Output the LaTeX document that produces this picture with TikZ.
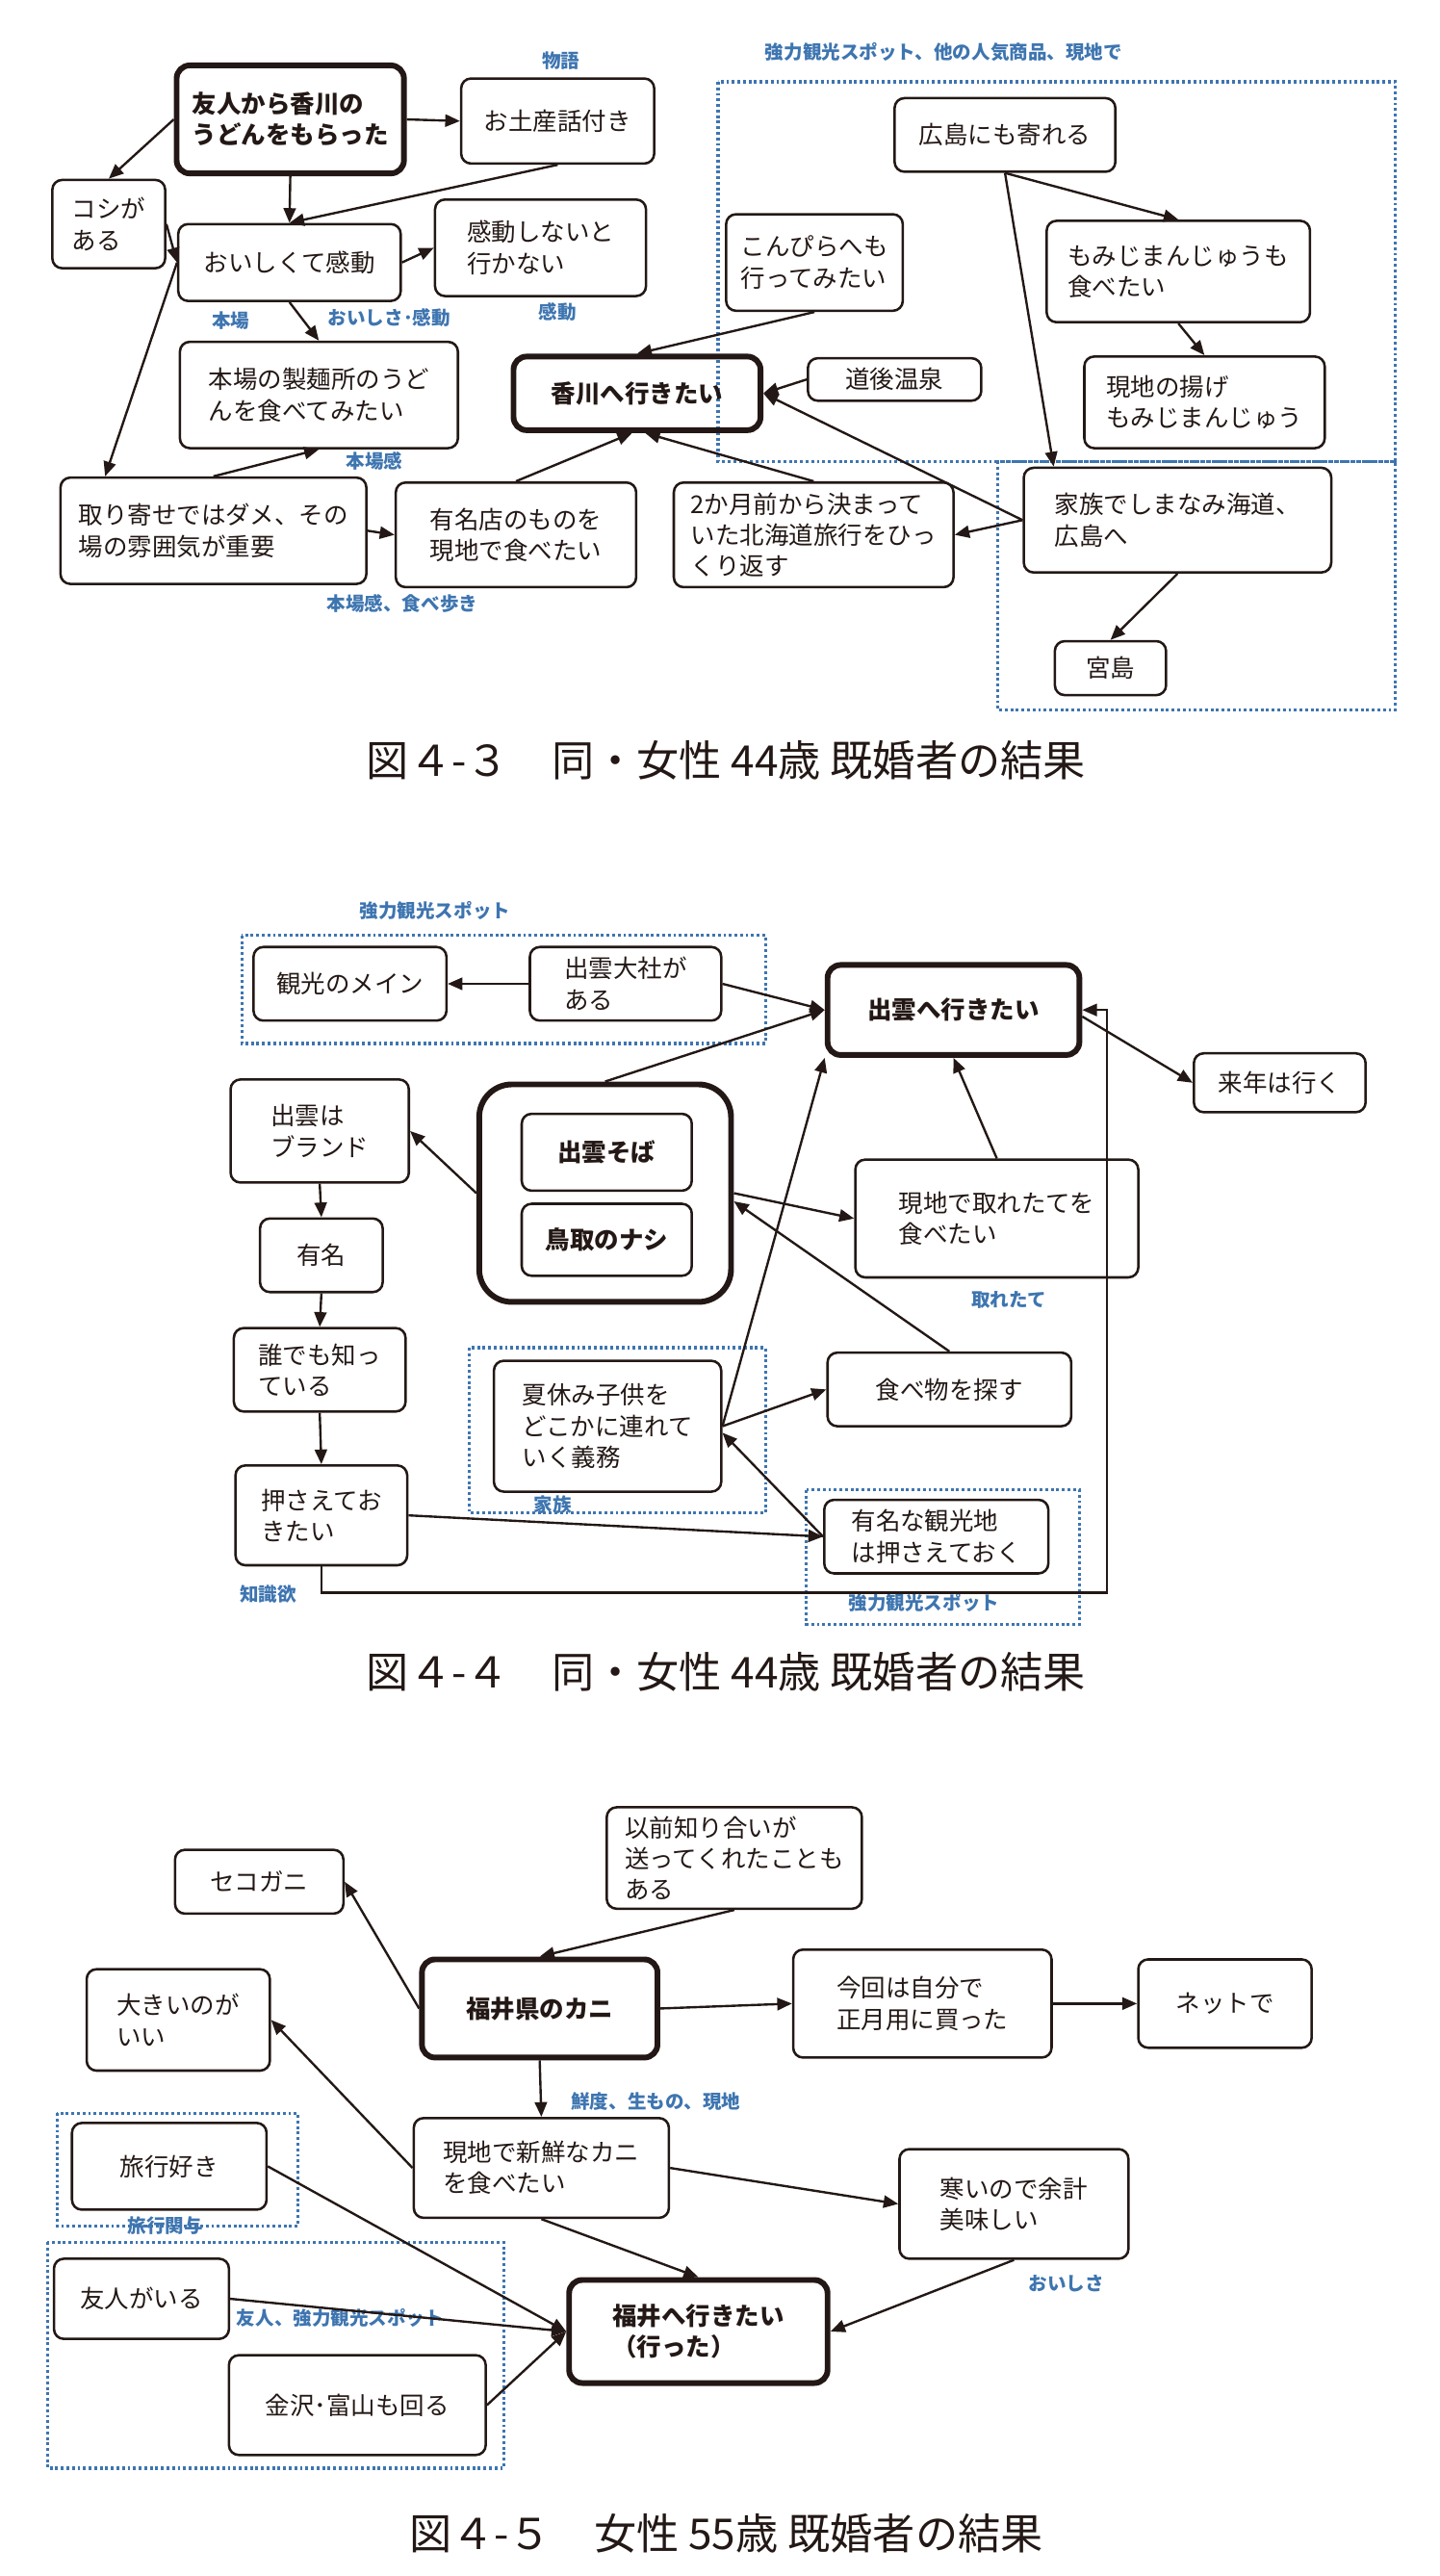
\documentclass[tikz,border=0pt]{standalone}
\usepackage{fontspec}
\setmainfont{Noto Sans CJK JP}
\usetikzlibrary{arrows.meta,calc,positioning}
\definecolor{ink}{RGB}{35,24,21}
\definecolor{tagblue}{RGB}{62,117,176}
\tikzset{box/.style={draw=ink, line width=1.5pt, rounded corners=6pt, align=left, text=ink, font=\fontsize{15}{19}\selectfont}}
\tikzset{mainbox/.style={box, line width=3.5pt, rounded corners=8pt, font=\fontsize{15}{19}\selectfont\bfseries}}
\tikzset{tag/.style={text=tagblue, font=\fontsize{11.5}{13}\selectfont\bfseries, inner sep=0pt}}
\tikzset{grp/.style={draw=tagblue, line width=1.9pt, dash pattern=on 1.7pt off 1.7pt}}
\tikzset{arr/.style={draw=ink, line width=1.4pt, -{Triangle[length=9pt,width=7.5pt]}}}
\tikzset{figcap/.style={text=ink, font=\fontsize{26}{30}\selectfont}}

\begin{document}
\begin{tikzpicture}[x=1pt, y=-1pt]
    \useasboundingbox (0,0) rectangle (880,1575);

    \begin{scope}[shift={(0,0)}]
        \draw[grp] (439,50) rectangle (853,282);
        \draw[grp] (610,282) rectangle (853,434);

        \node[mainbox, minimum width=139pt, minimum height=66pt] (yuujin) at (177.5,73) {友人から香川の\\うどんをもらった};
        \node[box, minimum width=118pt, minimum height=52pt] (miyage) at (341,74) {お土産話付き};
        \node[box, minimum width=69pt, minimum height=54pt] (koshi) at (66.5,137) {コシが\\ある};
        \node[box, minimum width=136pt, minimum height=47pt] (kandou) at (177,160.5) {おいしくて感動};
        \node[box, minimum width=129pt, minimum height=59pt] (shinai) at (330.5,151.5) {感動しないと\\行かない};
        \node[box, minimum width=170pt, minimum height=65pt] (honba) at (195,241.5) {本場の製麺所のうど\\んを食べてみたい};
        \node[mainbox, minimum width=151pt, minimum height=45pt] (kagawa) at (389.5,240.5) {香川へ行きたい};
        \node[box, minimum width=187pt, minimum height=65pt] (toriyose) at (130.5,324.5) {取り寄せではダメ、その\\場の雰囲気が重要};
        \node[box, minimum width=147pt, minimum height=64pt] (yuumei) at (315.5,327) {有名店のものを\\現地で食べたい};
        \node[box, minimum width=171pt, minimum height=64pt] (nikagetsu) at (497.5,327) {2か月前から決まって\\いた北海道旅行をひっ\\くり返す};
        \node[box, minimum width=135pt, minimum height=45pt] (hiroshima) at (614.5,82.5) {広島にも寄れる};
        \node[box, minimum width=108pt, minimum height=59pt] (konpira) at (498,160.5) {こんぴらへも\\行ってみたい};
        \node[box, minimum width=161pt, minimum height=62pt] (momiji) at (720.5,166) {もみじまんじゅうも\\食べたい};
        \node[box, minimum width=106pt, minimum height=26pt] (dougo) at (547,232) {道後温泉};
        \node[box, minimum width=147pt, minimum height=56pt] (ageman) at (736.5,246) {現地の揚げ\\もみじまんじゅう};
        \node[box, minimum width=188pt, minimum height=64pt] (kazoku) at (720,318) {家族でしまなみ海道、\\広島へ};
        \node[box, minimum width=68pt, minimum height=33pt] (miyajima) at (679,408.5) {宮島};

        \node[tag] at (343,37) {物語};
        \node[tag] at (141,196) {本場};
        \node[tag] at (238,194) {おいしさ･感動};
        \node[tag] at (341,191) {感動};
        \node[tag] at (229,282) {本場感};
        \node[tag] at (246,369) {本場感、食べ歩き};
        \node[tag] at (577,32) {強力観光スポット、他の人気商品、現地で};

        \draw[arr] (yuujin.east) -- (miyage.west);
        \draw[arr] (yuujin.west) -- (koshi.north);
        \draw[arr] (yuujin.south) -- (kandou.north);
        \draw[arr] (miyage.south) -- (kandou.north);
        \draw[arr] (koshi.east) -- (kandou.west);
        \draw[arr] (kandou.east) -- (shinai.west);
        \draw[arr] (kandou.south) -- (honba.north);
        \draw[arr] (kandou.west) -- ($(toriyose.north west)+(28,0)$);
        \draw[arr] (toriyose.north) -- (honba.south);
        \draw[arr] (toriyose.east) -- (yuumei.west);
        \draw[arr] (yuumei.north) -- ($(kagawa.south)+(-3,0)$);
        \draw[arr] (nikagetsu.north) -- ($(kagawa.south)+(5,0)$);
        \draw[arr] (konpira.south) -- (kagawa.north);
        \draw[arr] (dougo.west) -- (kagawa.east);
        \draw[arr] (kazoku.west) -- (kagawa.east);
        \draw[arr] (kazoku.west) -- (nikagetsu.east);
        \draw[arr] (hiroshima.south) -- (momiji.north);
        \draw[arr] (hiroshima.south) -- ($(kazoku.north west)+(19,0)$);
        \draw[arr] (momiji.south) -- (ageman.north);
        \draw[arr] (kazoku.south) -- (miyajima.north);

        \node[figcap] (cap3) at (444,465) {図４-３　同・女性 44歳 既婚者の結果};
    \end{scope}

    \begin{scope}[shift={(0,540)}]
        \draw[grp] (148,32) rectangle (468,98);
        \draw[grp] (287,284) rectangle (468,385);
        \draw[grp] (493,371) rectangle (660,453);

        \node[box, minimum width=118pt, minimum height=45pt] (kankou) at (214,61.5) {観光のメイン};
        \node[box, minimum width=117pt, minimum height=45pt] (taisha) at (382.5,61.5) {出雲大社が\\ある};
        \node[mainbox, minimum width=154pt, minimum height=55pt] (izumo) at (583,77.5) {出雲へ行きたい};
        \node[box, minimum width=105pt, minimum height=36pt] (rainen) at (782.5,122) {来年は行く};
        \node[mainbox, minimum width=154pt, minimum height=133pt, rounded corners=20pt] (food) at (370,189.5) {};
        \node[box, minimum width=104pt, minimum height=47pt, font=\fontsize{15}{19}\selectfont\bfseries] (soba) at (371,164.5) {出雲そば};
        \node[box, minimum width=104pt, minimum height=44pt, font=\fontsize{15}{19}\selectfont\bfseries] (nashi) at (371,218) {鳥取のナシ};
        \node[box, minimum width=109pt, minimum height=63pt] (brand) at (195.5,151.5) {出雲は\\ブランド};
        \node[box, minimum width=75pt, minimum height=45pt] (yuumeiB) at (196.5,227.5) {有名};
        \node[box, minimum width=105pt, minimum height=51pt] (daredemo) at (195.5,297.5) {誰でも知っ\\ている};
        \node[box, minimum width=105pt, minimum height=61pt] (osaete) at (196.5,386.5) {押さえてお\\きたい};
        \node[box, minimum width=173pt, minimum height=72pt] (toretate) at (609.5,205) {現地で取れたてを\\食べたい};
        \node[box, minimum width=139pt, minimum height=80pt] (natsu) at (371.5,332) {夏休み子供を\\どこかに連れて\\いく義務};
        \node[box, minimum width=149pt, minimum height=45pt] (tabemono) at (580.5,309.5) {食べ物を探す};
        \node[box, minimum width=137pt, minimum height=45pt] (kankouchi) at (572.5,399.5) {有名な観光地\\は押さえておく};

        \node[tag] at (266,17) {強力観光スポット};
        \node[tag] at (617,255) {取れたて};
        \node[tag] at (338,380) {家族};
        \node[tag] at (164,435) {知識欲};
        \node[tag] at (565,440) {強力観光スポット};

        \draw[arr] (taisha.west) -- (kankou.east);
        \draw[arr] (taisha.east) -- (izumo.west);
        \draw[arr] (food.north) -- (izumo.west);
        \draw[arr] (food.west) -- (brand.east);
        \draw[arr] (brand.south) -- (yuumeiB.north);
        \draw[arr] (yuumeiB.south) -- (daredemo.north);
        \draw[arr] (daredemo.south) -- (osaete.north);
        \draw[arr] (osaete.south) -- ++(0,16) -| ($(izumo.east)+(15,0)$) -- (izumo.east);
        \draw[arr] (osaete.east) -- (kankouchi.west);
        \draw[arr] (natsu.east) -- (izumo.south west);
        \draw[arr] (toretate.north) -- (izumo.south);
        \draw[arr] (food.east) -- (toretate.west);
        \draw[arr] (tabemono.north) -- ($(food.east)+(0,5)$);
        \draw[arr] (natsu.east) -- (tabemono.west);
        \draw[arr] (kankouchi.west) -- ($(natsu.east)+(0,4)$);
        \draw[arr] ($(izumo.east)+(0,4)$) -- (rainen.west);

        \node[figcap] (cap4) at (444,482) {図４-４　同・女性 44歳 既婚者の結果};
    \end{scope}

    \begin{scope}[shift={(0,1080)}]
        \draw[grp] (35,212) rectangle (182,281);
        \draw[grp] (29,291) rectangle (308,429);

        \node[box, minimum width=103pt, minimum height=39pt] (sekogani) at (158.5,70.5) {セコガニ};
        \node[box, minimum width=156pt, minimum height=62pt] (izen) at (449,56) {以前知り合いが\\送ってくれたことも\\ある};
        \node[mainbox, minimum width=144pt, minimum height=60pt] (kani) at (330,148) {福井県のカニ};
        \node[box, minimum width=112pt, minimum height=62pt] (ookii) at (109,155) {大きいのが\\いい};
        \node[box, minimum width=158pt, minimum height=66pt] (konkai) at (564,145) {今回は自分で\\正月用に買った};
        \node[box, minimum width=106pt, minimum height=54pt] (net) at (749,145) {ネットで};
        \node[box, minimum width=156pt, minimum height=61pt] (shinsen) at (331,245.5) {現地で新鮮なカニ\\を食べたい};
        \node[box, minimum width=140pt, minimum height=67pt] (samui) at (620,267.5) {寒いので余計\\美味しい};
        \node[box, minimum width=119pt, minimum height=53pt] (ryokou) at (103.5,244.5) {旅行好き};
        \node[box, minimum width=107pt, minimum height=49pt] (tomo) at (86.5,325.5) {友人がいる};
        \node[box, minimum width=157pt, minimum height=61pt] (kanazawa) at (218.5,390.5) {金沢･富山も回る};
        \node[mainbox, minimum width=158pt, minimum height=63pt] (fukui) at (427,345.5) {福井へ行きたい\\（行った）};

        \node[tag] at (401,205) {鮮度、生もの、現地};
        \node[tag] at (101,281) {旅行関与};
        \node[tag] at (208,337) {友人、強力観光スポット};
        \node[tag] at (652,316) {おいしさ};

        \draw[arr] (izen.south) -- (kani.north);
        \draw[arr] (kani.west) -- (sekogani.east);
        \draw[arr] (kani.east) -- (konkai.west);
        \draw[arr] (konkai.east) -- (net.west);
        \draw[arr] (kani.south) -- (shinsen.north);
        \draw[arr] (shinsen.west) -- (ookii.east);
        \draw[arr] (shinsen.east) -- (samui.west);
        \draw[arr] (shinsen.south) -- (fukui.north);
        \draw[arr] (ryokou.east) -- (fukui.west);
        \draw[arr] (tomo.east) -- (fukui.west);
        \draw[arr] (kanazawa.east) -- (fukui.west);
        \draw[arr] (samui.south) -- (fukui.east);

        \node[figcap] (cap5) at (444,469) {図４-５　女性 55歳 既婚者の結果};
    \end{scope}
\end{tikzpicture}
\end{document}
